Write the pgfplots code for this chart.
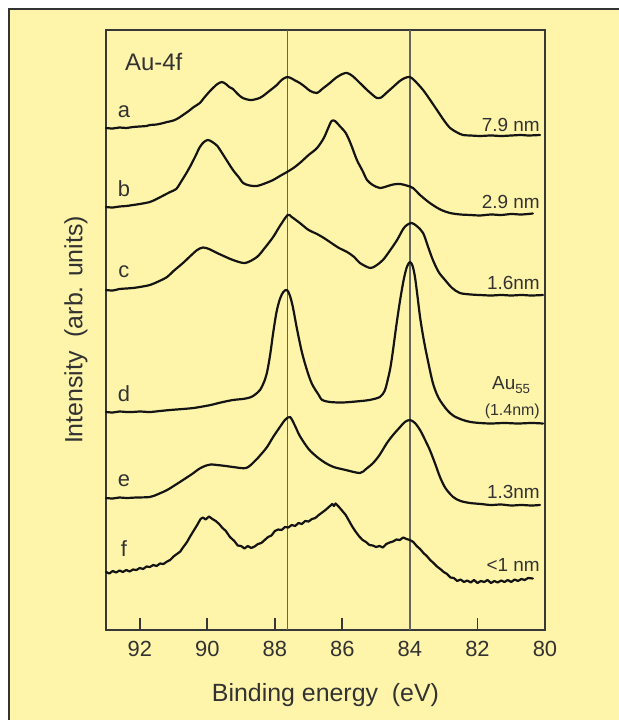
\documentclass[border=0pt]{standalone}
\usepackage{pgfplots}
\pgfplotsset{compat=1.18}
\usepackage{fontspec}
\setmainfont{Liberation Sans}
\definecolor{bgyel}{RGB}{255,245,170}
\definecolor{txt}{RGB}{50,50,50}
\definecolor{axc}{RGB}{55,55,55}
\definecolor{vline}{RGB}{100,100,100}
\pgfplotsset{curve/.style={black!92, line width=2.2bp, line join=round, line cap=round}}
\begin{document}
\begin{tikzpicture}
\useasboundingbox (0bp,0bp) rectangle (619bp,720bp);
\fill[bgyel] (9bp,0bp) rectangle (619bp,711bp);
\draw[line width=1.5bp, black!80] (9bp,0bp) -- (9bp,711bp) -- (619bp,711bp);
\begin{axis}[
  at={(106bp,90bp)}, anchor=south west,
  scale only axis, width=439bp, height=600bp,
  x dir=reverse, xmin=80, xmax=93, ymin=-630, ymax=-30,
  xtick={80,82,...,92}, ytick=\empty,
  tick align=inside, xtick pos=left, major tick length=12bp,
  axis line style={axc, line width=2bp},
  every tick/.style={axc, line width=1.8bp},
  tick label style={font=\fontsize{22}{26}\selectfont, text=txt},
  xticklabel style={yshift=-8bp},
  /pgf/number format/assume math mode=true,
  clip=false,
]
\addplot[vline, line width=1.2bp] coordinates {(87.62,-630) (87.62,-30)};
\addplot[vline, line width=1.2bp] coordinates {(84.0,-630) (84.0,-30)};
% a: 7.9 nm
\addplot[curve, smooth] coordinates {
(93.0,-128)(92.8,-128.5)(92.6,-127.5)(92.4,-128)(92.2,-127)(92.0,-126.5)(91.8,-126)(91.7,-125)
(91.5,-124.5)(91.3,-123)(91.19,-122)(91.0,-120.5)(90.85,-118)(90.72,-115)(90.55,-111)(90.4,-107)
(90.22,-103)(90.1,-98)(89.92,-91)(89.8,-87)(89.7,-84)(89.57,-82)(89.45,-84)(89.35,-87)(89.24,-89)
(89.1,-94)(88.95,-98)(88.74,-100)(88.6,-99.5)(88.45,-98)(88.35,-96)(88.2,-92)(88.05,-88)(87.94,-85)
(87.8,-80)(87.64,-77)(87.5,-78.5)(87.4,-80.5)(87.26,-83)(87.1,-87)(86.95,-91)(86.75,-93)(86.6,-89)
(86.37,-83)(86.2,-78)(86.0,-74)(85.86,-73)(85.7,-76)(85.48,-83)(85.3,-89)(85.1,-95)(84.98,-98)
(84.85,-97.5)(84.7,-93)(84.5,-87)(84.3,-81)(84.15,-78)(84.0,-77)(83.85,-81)(83.61,-90)(83.4,-100)
(83.2,-110)(83.0,-120)(82.81,-128)(82.6,-132.5)(82.43,-135)(82.2,-135.5)(81.93,-136)(81.6,-135.5)
(81.3,-136)(81.0,-135.5)(80.7,-135)(80.5,-135.5)(80.15,-135)};
% b: 2.9 nm
\addplot[curve, smooth] coordinates {
(93.0,-207)(92.8,-207.5)(92.6,-206.5)(92.4,-206)(92.2,-205)(92.0,-204)(91.7,-202)(91.5,-199)
(91.3,-195.5)(91.1,-192)(90.92,-189)(90.8,-183)(90.6,-172)(90.5,-166)(90.35,-156)(90.22,-147)
(90.1,-142)(89.98,-140)(89.85,-142)(89.7,-146)(89.62,-150)(89.45,-159)(89.24,-170)(89.05,-178)
(88.94,-183)(88.75,-185.5)(88.53,-186)(88.3,-183.5)(88.05,-180)(87.85,-176)(87.64,-172)(87.45,-168)
(87.26,-163)(87.0,-155)(86.75,-148)(86.55,-138)(86.42,-128)(86.32,-121)(86.22,-121)(86.08,-126)
(85.9,-133)(85.75,-144)(85.57,-160)(85.4,-171)(85.27,-180)(85.1,-185)(84.89,-188)(84.7,-186.5)
(84.5,-184.5)(84.29,-184)(84.1,-185.5)(83.91,-188)(83.7,-195)(83.41,-203)(83.1,-209.5)(82.81,-213)
(82.5,-214.5)(82.2,-215)(81.93,-215.5)(81.6,-214.5)(81.3,-215)(81.0,-214)(80.7,-214.5)(80.36,-213.5)};
% c: 1.6 nm
\addplot[curve, smooth] coordinates {
(93.0,-290)(92.8,-290.5)(92.6,-289)(92.4,-288.5)(92.2,-288)(92.0,-287)(91.7,-285)(91.45,-281.5)
(91.19,-277)(91.0,-271)(90.72,-263)(90.5,-256)(90.3,-250)(90.13,-247.5)(89.95,-249)(89.71,-253)
(89.45,-257)(89.24,-260)(88.88,-263)(88.53,-257)(88.3,-248)(88.05,-237)(87.85,-226)(87.62,-215)
(87.5,-217)(87.26,-223)(87.0,-230)(86.75,-234)(86.5,-239)(86.37,-242)(86.1,-248)(85.86,-252)
(85.65,-257)(85.48,-263)(85.18,-268)(85.0,-265.5)(84.8,-260)(84.6,-251)(84.38,-240)(84.2,-229)
(84.09,-225)(83.95,-223)(83.8,-226)(83.61,-233)(83.45,-248)(83.32,-260)(83.15,-272)(82.96,-280)
(82.75,-288)(82.52,-293)(82.2,-294.5)(81.93,-295)(81.6,-295.5)(81.3,-295)(81.0,-295.5)(80.7,-295)
(80.4,-295.5)(80.06,-295)};
% d: Au55
\addplot[curve, smooth] coordinates {
(93.0,-412)(92.8,-412.5)(92.6,-411.5)(92.4,-412)(92.2,-412)(92.0,-411.5)(91.7,-412)(91.4,-411)
(91.1,-410)(90.72,-409)(90.4,-408)(90.22,-407)(89.9,-405)(89.6,-402.5)(89.24,-400)(88.95,-399)
(88.74,-397.5)(88.6,-395)(88.44,-390)(88.32,-382)(88.23,-372)(88.14,-355)(88.05,-333)(87.95,-312)
(87.85,-299)(87.75,-292)(87.64,-290)(87.55,-296)(87.46,-308)(87.35,-328)(87.2,-352)(87.05,-370)
(86.9,-384)(86.7,-395)(86.6,-400)(86.37,-402)(86.0,-402.5)(85.6,-401.5)(85.2,-400)(84.89,-397)
(84.75,-391)(84.68,-383)(84.58,-368)(84.5,-350)(84.4,-325)(84.29,-300)(84.18,-279)(84.09,-267)
(84.0,-262)(83.92,-266)(83.85,-277)(83.78,-295)(83.7,-317)(83.6,-338)(83.49,-357)(83.32,-383)
(83.15,-398)(82.9,-410)(82.7,-416)(82.43,-420)(82.2,-422)(81.93,-423)(81.6,-423.5)(81.2,-423)
(80.8,-423.5)(80.4,-423)(80.06,-423.5)};
% e: 1.3 nm
\addplot[curve, smooth] coordinates {
(93.0,-498)(92.8,-498.5)(92.6,-497.5)(92.4,-498)(92.1,-497.5)(91.7,-497)(91.45,-494)(91.19,-490)
(90.95,-485)(90.72,-480)(90.45,-474)(90.25,-469)(90.07,-466)(89.9,-464.5)(89.71,-465)(89.45,-466)
(89.24,-467)(88.85,-468)(88.59,-461)(88.4,-454)(88.23,-447)(88.05,-437)(87.85,-427)(87.7,-420)
(87.55,-417)(87.4,-426)(87.26,-436)(87.0,-449)(86.75,-457)(86.5,-463)(86.26,-467)(85.9,-470)
(85.48,-473)(85.3,-469)(85.09,-463)(84.9,-455)(84.68,-443)(84.5,-435)(84.29,-427)(84.15,-422)
(84.0,-420)(83.85,-423)(83.7,-430)(83.55,-440)(83.41,-450)(83.25,-464)(83.11,-477)(82.95,-488)
(82.72,-497)(82.5,-501)(82.22,-503)(81.9,-504)(81.6,-505)(81.3,-504.5)(81.0,-505.5)(80.7,-505)
(80.4,-505.5)(80.15,-505)};
% f: <1 nm
\addplot[curve] coordinates {
(93.0,-572)(92.9,-573.5)(92.8,-571)(92.7,-572.5)(92.6,-570.5)(92.5,-572)(92.4,-570)(92.3,-571.5)
(92.2,-569.5)(92.1,-570)(92.0,-568)(91.9,-569)(91.8,-566.5)(91.7,-567)(91.6,-565)(91.5,-566)
(91.4,-563.5)(91.3,-564)(91.19,-561.5)(91.1,-560)(91.0,-556.5)(90.9,-554)(90.8,-551.5)(90.72,-547.5)
(90.6,-542)(90.5,-536)(90.4,-530.5)(90.3,-525)(90.2,-519)(90.13,-517.5)(90.05,-519.5)(89.95,-516.5)
(89.85,-519)(89.75,-521)(89.65,-524)(89.55,-528)(89.45,-531)(89.33,-537)(89.2,-541)(89.1,-545.5)
(89.0,-546)(88.9,-548.5)(88.8,-546)(88.7,-548)(88.6,-546.5)(88.5,-544)(88.4,-543)(88.3,-540)
(88.2,-537)(88.1,-535.5)(88.0,-531)(87.9,-529.5)(87.8,-530)(87.7,-527)(87.6,-527.5)(87.5,-525)
(87.4,-526)(87.3,-523)(87.2,-524)(87.1,-521)(87.0,-521.5)(86.9,-519)(86.8,-518)(86.7,-515)
(86.6,-512.5)(86.5,-510)(86.4,-507)(86.3,-504)(86.25,-506)(86.2,-503.5)(86.1,-507)(86.0,-511)
(85.9,-515)(85.8,-521)(85.7,-527)(85.6,-532)(85.5,-536.5)(85.4,-540)(85.3,-542)(85.2,-545)
(85.1,-545.5)(85.0,-547)(84.9,-546)(84.8,-547.5)(84.7,-544)(84.6,-542.5)(84.5,-541.5)(84.4,-539.5)
(84.3,-540)(84.2,-537.5)(84.1,-539)(84.0,-540)(83.9,-542)(83.8,-546)(83.7,-549)(83.6,-553)
(83.5,-556)(83.4,-560)(83.3,-563)(83.2,-566.5)(83.1,-569)(83.0,-572)(82.9,-574)(82.8,-577.5)
(82.7,-578)(82.6,-581)(82.5,-579.5)(82.4,-582)(82.3,-580.5)(82.2,-582.5)(82.1,-580)(82.0,-583)
(81.9,-581)(81.8,-582)(81.7,-580)(81.6,-583)(81.5,-581)(81.4,-582.5)(81.3,-580.5)(81.2,-582)
(81.1,-580)(81.0,-582)(80.9,-579.5)(80.8,-581)(80.7,-579)(80.6,-580)(80.5,-578)(80.36,-578.5)};
% annotations
\begin{scope}[every node/.style={text=txt, inner sep=0pt}]
\node[anchor=west, font=\fontsize{24}{28}\selectfont] at (axis cs:92.44,-62) {Au-4f};
\node[font=\fontsize{22}{26}\selectfont] at (axis cs:92.47,-112) {a};
\node[font=\fontsize{22}{26}\selectfont] at (axis cs:92.47,-189) {b};
\node[font=\fontsize{22}{26}\selectfont] at (axis cs:92.47,-272) {c};
\node[font=\fontsize{22}{26}\selectfont] at (axis cs:92.47,-394) {d};
\node[font=\fontsize{22}{26}\selectfont] at (axis cs:92.47,-481) {e};
\node[font=\fontsize{22}{26}\selectfont] at (axis cs:92.47,-549) {f};
\node[anchor=east, font=\fontsize{19}{22}\selectfont] at (axis cs:80.15,-125) {7.9 nm};
\node[anchor=east, font=\fontsize{19}{22}\selectfont] at (axis cs:80.15,-202) {2.9 nm};
\node[anchor=east, font=\fontsize{19}{22}\selectfont] at (axis cs:80.15,-283) {1.6nm};
\node[anchor=east, font=\fontsize{19}{22}\selectfont] at (axis cs:80.42,-385) {Au\textsubscript{55}};
\node[anchor=east, font=\fontsize{16}{18}\selectfont] at (axis cs:80.15,-411) {(1.4nm)};
\node[anchor=east, font=\fontsize{19}{22}\selectfont] at (axis cs:80.15,-492) {1.3nm};
\node[anchor=east, font=\fontsize{19}{22}\selectfont] at (axis cs:80.15,-565) {<1 nm};
\node[font=\fontsize{25}{28}\selectfont] at (rel axis cs:0.5,0) [yshift=-65bp] {Binding energy\ \ (eV)};
\node[xshift=-30bp, rotate=90, font=\fontsize{25}{28}\selectfont] at (rel axis cs:0,0.5) {Intensity\ \ (arb. units)};
\end{scope}
\end{axis}
\end{tikzpicture}
\end{document}
